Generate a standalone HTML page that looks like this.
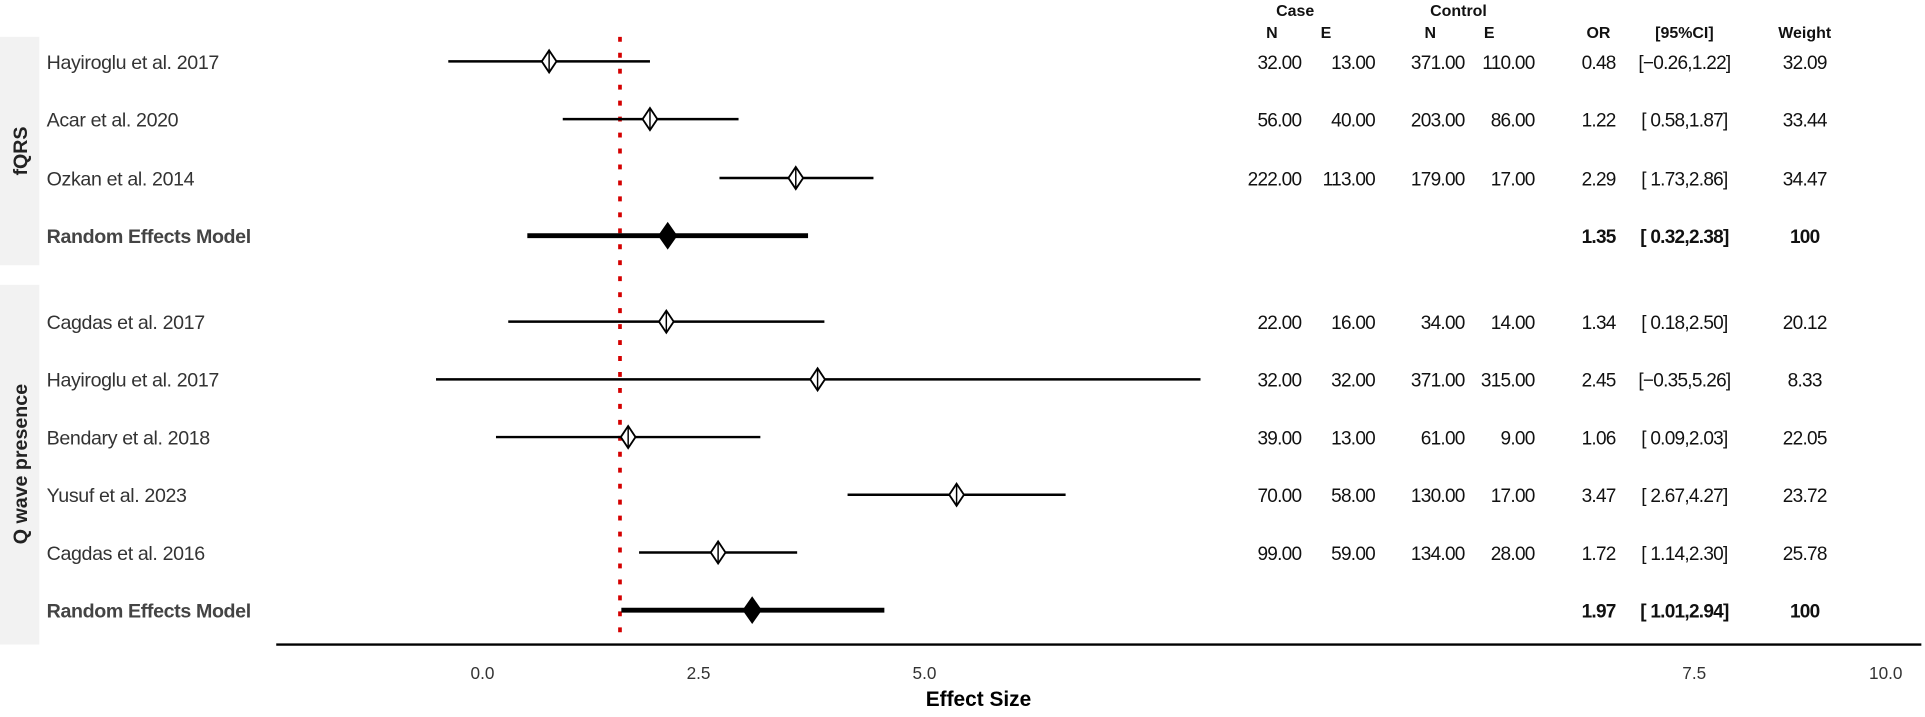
<!DOCTYPE html>
<html><head><meta charset="utf-8"><style>
body{margin:0;background:#fff}
svg{display:block;font-family:"Liberation Sans",sans-serif}
</style></head><body>
<svg id="chart" width="1925" height="717">
<g transform="scale(1.2277)">
<rect x="0" y="30" width="32" height="186" fill="#f2f2f2"/>
<rect x="0" y="232" width="32" height="293" fill="#f2f2f2"/>
<text transform="translate(22,123) rotate(-90)" text-anchor="middle" font-size="16" font-weight="bold" fill="#222">fQRS</text>
<text transform="translate(22,378) rotate(-90)" text-anchor="middle" font-size="16" font-weight="bold" fill="#222">Q wave presence</text>
<g id="hdr" font-size="13" font-weight="bold" text-anchor="middle" fill="#111">
<text x="1055" y="13">Case</text>
<text x="1188" y="13">Control</text>
<text x="1036" y="31">N</text>
<text x="1080" y="31">E</text>
<text x="1165" y="31">N</text>
<text x="1213" y="31">E</text>
<text x="1302" y="31">OR</text>
<text x="1372" y="31">[95%CI]</text>
<text x="1470" y="31">Weight</text>
</g>
<line x1="225" y1="525" x2="1565" y2="525" stroke="#000" stroke-width="2"/>
<text x="797" y="575" text-anchor="middle" font-size="17" font-weight="bold">Effect Size</text>
<g id="marks"></g>
</g>
</svg>
<script>
const labels=["Hayiroglu et al. 2017","Acar et al. 2020","Ozkan et al. 2014","Random Effects Model","Cagdas et al. 2017","Hayiroglu et al. 2017","Bendary et al. 2018","Yusuf et al. 2023","Cagdas et al. 2016","Random Effects Model"];
const est=[0.48,1.22,2.29,1.35,1.34,2.45,1.06,3.47,1.72,1.97];
const lo=[-0.26,0.58,1.73,0.32,0.18,-0.35,0.09,2.67,1.14,1.01];
const hi=[1.22,1.87,2.86,2.38,2.50,5.26,2.03,4.27,2.30,2.94];
const caseN=["32.00","56.00","222.00","","22.00","32.00","39.00","70.00","99.00",""];
const caseE=["13.00","40.00","113.00","","16.00","32.00","13.00","58.00","59.00",""];
const ctrlN=["371.00","203.00","179.00","","34.00","371.00","61.00","130.00","134.00",""];
const ctrlE=["110.00","86.00","17.00","","14.00","315.00","9.00","17.00","28.00",""];
const orTxt=["0.48","1.22","2.29","1.35","1.34","2.45","1.06","3.47","1.72","1.97"];
const ciTxt=["[\u22120.26,1.22]","[ 0.58,1.87]","[ 1.73,2.86]","[ 0.32,2.38]","[ 0.18,2.50]","[\u22120.35,5.26]","[ 0.09,2.03]","[ 2.67,4.27]","[ 1.14,2.30]","[ 1.01,2.94]"];
const weight=["32.09","33.44","34.47","100","20.12","8.33","22.05","23.72","25.78","100"];
const isSummary=[false,false,false,true,false,false,false,false,false,true];
const tickLabels=["0.0","2.5","5.0","7.5","10.0"];
const tickPos=[393,569,753,1380,1536];
const refValue=1;
const rowY=[50,97,145,192,262,309,356,403,450,497];
const xs=v=>394+111*v;
const NS="http://www.w3.org/2000/svg";
const g=document.getElementById('marks');
function mk(t,a,txt){const e=document.createElementNS(NS,t);for(const k in a)e.setAttribute(k,a[k]);if(txt!==undefined)e.textContent=txt;g.appendChild(e);return e;}
let e=mk('line',{x1:xs(refValue),x2:xs(refValue),y1:30,y2:524,stroke:'#d40000','stroke-width':3,'stroke-dasharray':'4,9'});


tickLabels.forEach((t,i)=>{const el=mk('text',{x:tickPos[i],y:553,'text-anchor':'middle','font-size':14,fill:'#333'},t);

});
labels.forEach((lab,i)=>{
 const y=rowY[i],s=isSummary[i],fw=s?'bold':'normal';
 let t=mk('text',{x:38,y:y+6,'font-size':16,'font-weight':fw,fill:s?'#444':'#333','letter-spacing':'-0.3'},lab);
 
 
 let l=mk('line',{x1:xs(lo[i]),x2:xs(hi[i]),y1:y,y2:y,stroke:'#000','stroke-width':s?4:2});
 
 
 const cx=xs(est[i]),w=s?7:6,h=s?10:9;
 let d=mk('polygon',{points:`${cx},${y-h} ${cx+w},${y} ${cx},${y+h} ${cx-w},${y}`,fill:s?'#000':'#fff',stroke:'#000','stroke-width':1.5});
 
 
 if(!s){let v=mk('line',{x1:cx,x2:cx,y1:y-h,y2:y+h,stroke:'#000','stroke-width':1.2});
 
 }
 const cols=[[caseN[i],1060,'end'],[caseE[i],1120,'end'],[ctrlN[i],1193,'end'],[ctrlE[i],1250,'end'],[orTxt[i],1316,'end'],[ciTxt[i],1372,'middle'],[weight[i],1470,'middle']];
 cols.forEach(c=>{if(!c[0])return;const tt=mk('text',{x:c[1],y:y+6,'text-anchor':c[2],'font-size':15.5,'font-weight':fw,fill:'#111','letter-spacing':'-0.6'},c[0]);
 
 });
});
</script>
</body></html>
